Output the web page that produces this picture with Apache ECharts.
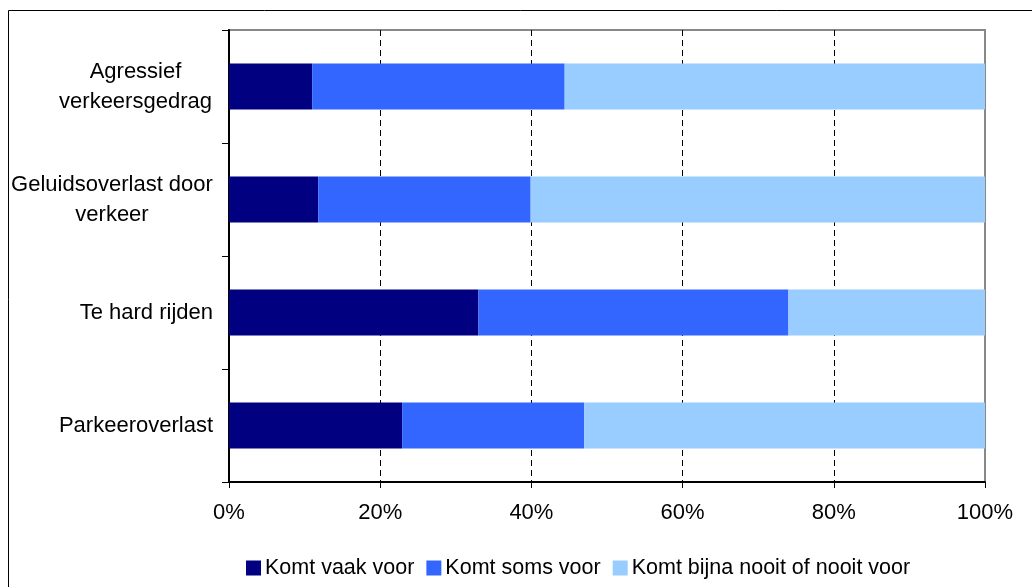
<!DOCTYPE html>
<html><head><meta charset="utf-8">
<script src="https://cdn.jsdelivr.net/npm/echarts@6/dist/echarts.min.js"></script>
<style>html,body{margin:0;padding:0;background:#fff}#c{width:1032px;height:587px}</style>
</head><body><div id="c"></div>
<script>
var categories = ['Agressief verkeersgedrag', 'Geluidsoverlast door verkeer', 'Te hard rijden', 'Parkeeroverlast'];
var seriesNames = ['Komt vaak voor', 'Komt soms voor', 'Komt bijna nooit of nooit voor'];
var vaak = [11.0, 11.8, 33.0, 22.9];
var soms = [33.4, 28.1, 41.0, 24.1];
var nooit = [55.6, 60.1, 26.0, 53.0];
var xTicks = [0, 20, 40, 60, 80, 100];
var colors = ['#000080', '#3366FF', '#99CCFF'];
var labelLines = {
  'Agressief verkeersgedrag': ['a', 'Agressief', 'verkeersgedrag'],
  'Geluidsoverlast door verkeer': ['g', 'Geluidsoverlast door', 'verkeer']
};
var font = "'Liberation Sans', Arial, sans-serif";
var fs = 22;
var chart = echarts.init(document.getElementById('c'));
var data = [vaak, soms, nooit];
chart.setOption({
  animation: false,
  graphic: [{
    type: 'rect', shape: {x: 8.5, y: 10.5, width: 1100, height: 700},
    style: {fill: 'none', stroke: '#000', lineWidth: 1}, silent: true
  }],
  grid: {left: 229, right: 47, top: 30, bottom: 105, show: true, borderColor: '#888', borderWidth: 2, backgroundColor: 'transparent'},
  legend: {
    data: seriesNames, left: 241, top: 552, itemWidth: 15, itemHeight: 15, itemGap: 12,
    icon: 'rect', textStyle: {fontFamily: font, fontSize: 21.5, color: '#000', padding: [0, 0, 0, -1]}
  },
  xAxis: {
    type: 'value', min: xTicks[0], max: xTicks[xTicks.length - 1], interval: 20,
    axisLine: {show: true, lineStyle: {color: '#000', width: 2}},
    axisTick: {show: true, length: 6, lineStyle: {color: '#000'}},
    axisLabel: {formatter: '{value}%', fontFamily: font, fontSize: fs, color: '#000', margin: 20},
    splitLine: {show: true, showMinLine: false, showMaxLine: false, lineStyle: {color: '#000', type: [6, 4], width: 1}}
  },
  yAxis: {
    type: 'category', data: categories, inverse: true,
    axisLine: {show: true, onZero: false, lineStyle: {color: '#000', width: 2}},
    axisTick: {show: true, length: 7, lineStyle: {color: '#000'}},
    axisLabel: {
      fontFamily: font, fontSize: fs, color: '#000', margin: 16, align: 'right',
      formatter: function (v) {
        var l = labelLines[v];
        if (!l) return v;
        return '{' + l[0] + '|' + l[1] + '}\n{' + l[0] + '|' + l[2] + '}';
      },
      rich: {
        a: {width: 155, align: 'center', fontFamily: font, fontSize: fs, color: '#000', lineHeight: 30},
        g: {width: 202, align: 'center', fontFamily: font, fontSize: fs, color: '#000', lineHeight: 30}
      }
    }
  },
  series: seriesNames.map(function (n, i) {
    return {
      name: n, type: 'bar', stack: 'total', data: data[i], barWidth: 46,
      itemStyle: {color: colors[i]}
    };
  })
});
</script></body></html>
